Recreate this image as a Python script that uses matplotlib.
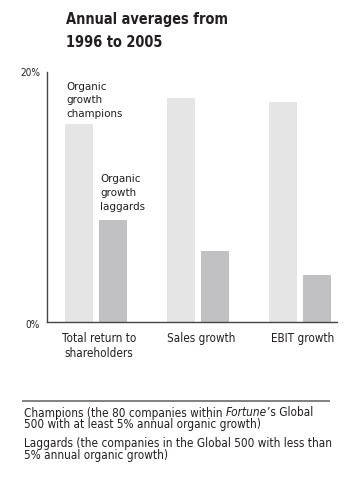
import os
import matplotlib
matplotlib.use("Agg")
import matplotlib.pyplot as plt
import matplotlib.transforms as mtransforms
from matplotlib.font_manager import FontProperties, fontManager
import numpy as np

categories = ["Total return to\nshareholders", "Sales growth", "EBIT growth"]
champions = [15.8, 17.9, 17.6]
laggards = [8.2, 5.7, 3.8]
yticks = [0, 20]
ytick_labels = ["0%", "20%"]
title_lines = ["Annual averages from", "1996 to 2005"]
champ_lines = ["Organic", "growth", "champions"]
lag_lines = ["Organic", "growth", "laggards"]
foot1_a = "Champions (the 80 companies within"
foot1_b = "Fortune"
foot1_c = "’s Global"
foot2 = "500 with at least 5% annual organic growth)"
foot3 = "Laggards (the companies in the Global 500 with less than"
foot4 = "5% annual organic growth)"

files = {os.path.basename(f.fname): f.fname for f in fontManager.ttflist}


def pick(cands, family="Roboto", weight="normal", style="normal"):
    for c in cands:
        if c in files:
            return FontProperties(fname=files[c])
    return FontProperties(family=[family, "DejaVu Sans"], weight=weight, style=style)


F_REG = pick(["NotoSans-ExtraCondensed.ttf", "NotoSans-Condensed.ttf",
              "DejaVuSansCondensed.ttf"])
F_BOLD = pick(["NotoSans-CondensedBold.ttf", "DejaVuSansCondensed-Bold.ttf"], weight="bold")
F_IT = pick(["NotoSans-ExtraCondensedItalic.ttf", "NotoSans-CondensedItalic.ttf",
             "DejaVuSansCondensed-Oblique.ttf"], style="italic")

W, H = 356, 480
fig = plt.figure(figsize=(W / 100, H / 100), dpi=100)
renderer = fig.canvas.get_renderer()


def fp(base, size):
    p = base.copy()
    p.set_size(size)
    return p


def fit(base, text, target_px, ref=10.0):
    t = fig.text(0, 0, text, fontproperties=fp(base, ref))
    w = t.get_window_extent(renderer).width
    t.remove()
    return ref * target_px / w


S_TITLE = fit(F_BOLD, title_lines[0], 162)
S_ANN = fit(F_REG, champ_lines[2], 56)
S_CAT = fit(F_REG, categories[1], 68)
S_FOOT = fit(F_REG, foot3, 305)
S_TICK = fit(F_REG, ytick_labels[1], 20)

TXT = "#231f20"


def Y(p):
    return 1 - p / H


def put(text, x, yb, prop, ha="left"):
    return fig.text(x / W, Y(yb), text, fontproperties=prop, color=TXT,
                    ha=ha, va="baseline")


ax = fig.add_axes([47 / W, Y(322), (337 - 47) / W, (322 - 72) / H])
x = np.arange(len(categories))
off = 0.169
bw = 0.275
ax.bar(x - off, champions, width=bw, color="#e5e5e6", linewidth=0)
ax.bar(x + off, laggards, width=bw, color="#c1c1c3", linewidth=0)
ax.set_xlim(-0.48, 2.363)
ax.set_ylim(0, 20)
for s in ["top", "right"]:
    ax.spines[s].set_visible(False)
for s in ["left", "bottom"]:
    ax.spines[s].set_color("#454545")
    ax.spines[s].set_linewidth(1.0)
ax.set_yticks(yticks)
ax.set_yticklabels(ytick_labels, fontproperties=fp(F_REG, S_TICK), color=TXT)
ax.tick_params(axis="y", length=0, pad=5)
lbl0 = ax.get_yticklabels()[0]
lbl0.set_transform(lbl0.get_transform() +
                   mtransforms.ScaledTranslation(0, -2 / 100, fig.dpi_scale_trans))
ax.set_xticks(x + 0.03)
ax.set_xticklabels(categories, fontproperties=fp(F_REG, S_CAT), color=TXT,
                   linespacing=1.2)
ax.tick_params(axis="x", length=0, pad=7)

# series labels above the first pair of bars
p_ann = fp(F_REG, S_ANN)
for i, line in enumerate(champ_lines):
    put(line, 66, 89.5 + 13.8 * i, p_ann)
for i, line in enumerate(lag_lines):
    put(line, 100, 182 + 13.8 * i, p_ann)

p_title = fp(F_BOLD, S_TITLE)
put(title_lines[0], 66, 24, p_title)
put(title_lines[1], 66, 47, p_title)

fig.add_artist(plt.Line2D([23 / W, 329 / W], [Y(401), Y(401)],
                          color="#767676", linewidth=1.3))
p_foot = fp(F_REG, S_FOOT)
p_foot_it = fp(F_IT, S_FOOT)
t1 = put(foot1_a, 24, 416.5, p_foot)
t2 = fig.text(0, 0, foot1_b, fontproperties=p_foot_it, color=TXT, ha="left",
              va="baseline", transform=None)
fig.canvas.draw()
bb = t1.get_window_extent(renderer)
ybase = fig.transFigure.transform((0, Y(416.5)))[1]
gap = S_FOOT * 0.33
t2.set_position((bb.x1 + gap, ybase))
bb2 = t2.get_window_extent(renderer)
fig.text(bb2.x1 + 0.5, ybase, foot1_c,
         fontproperties=p_foot, color=TXT, ha="left", va="baseline", transform=None)
put(foot2, 24, 428, p_foot)
put(foot3, 24, 447, p_foot)
put(foot4, 24, 458.5, p_foot)

fig.savefig("out.png", dpi=100, facecolor="white")
